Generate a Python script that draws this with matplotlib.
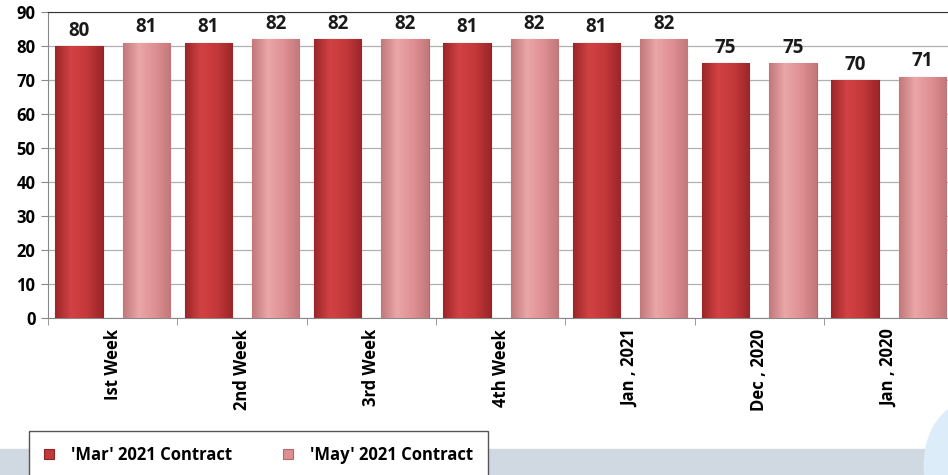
import numpy as np
import matplotlib.pyplot as plt
from matplotlib.patches import Rectangle, Ellipse
from matplotlib.colors import LinearSegmentedColormap

categories = ["Ist Week", "2nd Week", "3rd Week", "4th Week", "Jan , 2021", "Dec , 2020", "Jan , 2020"]
mar_2021 = [80, 81, 82, 81, 81, 75, 70]
may_2021 = [81, 82, 82, 82, 82, 75, 71]
series_names = ["'Mar' 2021 Contract", "'May' 2021 Contract"]

plt.rcParams['font.family'] = ['Open Sans', 'DejaVu Sans']
plt.rcParams['font.weight'] = 'bold'

fig = plt.figure(figsize=(9.48, 4.75), dpi=100)

# background band + bubble at the bottom
fig.patches.append(Rectangle((0, 0), 0.976, 26 / 475, transform=fig.transFigure,
                             color='#d0d9e1', zorder=0))
fig.patches.append(Ellipse((1.02, 0.02), 0.09, 0.26, transform=fig.transFigure,
                           color='#dcecf8', zorder=0))

ax = fig.add_axes([0.0506, 0.3305, 0.955, 0.644])
x = np.arange(len(categories))
w = 0.366
off = 0.26
b1 = ax.bar(x - off, mar_2021, w, color='#c0393b', edgecolor='#8e2426', linewidth=0.8,
            label=series_names[0], zorder=3)
b2 = ax.bar(x + off, may_2021, w, color='#de8e90', edgecolor='#b06a6c', linewidth=0.8,
            label=series_names[1], zorder=3)

# glossy look: horizontal gradient clipped to each bar
cm_mar = LinearSegmentedColormap.from_list('mar', ['#9c2628', '#d24244', '#c4383a', '#9c2628'])
cm_may = LinearSegmentedColormap.from_list('may', ['#c2787b', '#eba6a8', '#df9092', '#c2787b'])
grad = np.linspace(0, 1, 64).reshape(1, -1)
for bars, cm in ((b1, cm_mar), (b2, cm_may)):
    for r in bars:
        im = ax.imshow(grad, extent=[r.get_x(), r.get_x() + r.get_width(), 0, r.get_height()],
                       aspect='auto', cmap=cm, zorder=3.2, interpolation='bilinear')
        im.set_clip_path(r)

for bars, vals in ((b1, mar_2021), (b2, may_2021)):
    for r, v in zip(bars, vals):
        ax.text(r.get_x() + r.get_width() / 2, v + 1.6, str(v), ha='center', va='bottom',
                fontsize=13.5, fontweight='bold', color='#1a1a1a')

ax.set_xlim(-0.5, len(categories) - 0.5)
ax.set_ylim(0, 90)
ax.set_yticks(np.arange(0, 91, 10))
ax.set_xticks(x)
ax.set_xticklabels(categories, rotation=90, fontsize=12, fontweight='bold')
ax.set_xticks(np.arange(-0.5, len(categories), 1), minor=True)
ax.tick_params(axis='x', which='major', length=0, pad=8)
ax.tick_params(axis='x', which='minor', length=5, color='#888888')
ax.tick_params(axis='y', labelsize=12, length=5, color='#888888', pad=4)
for lab in ax.get_yticklabels():
    lab.set_fontweight('bold')

ax.yaxis.grid(True, color='#b0b0b0', linewidth=0.9, zorder=0)
ax.set_axisbelow(True)
ax.spines['top'].set_color('#333333')
ax.spines['right'].set_visible(False)
ax.spines['left'].set_color('#888888')
ax.spines['bottom'].set_color('#888888')

leg = fig.legend(handles=[b1, b2], labels=series_names, loc='upper left',
                 bbox_to_anchor=(0.0306, 0.0926), ncol=2, fontsize=12,
                 frameon=True, fancybox=False, handlelength=0.6, handleheight=0.6,
                 columnspacing=3.1, borderpad=0.9, handletextpad=1.0, framealpha=1,
                 borderaxespad=0)
leg.get_frame().set_edgecolor('#555555')
leg.get_frame().set_linewidth(1.0)
for t in leg.get_texts():
    t.set_fontweight('bold')

fig.savefig('out.png', dpi=100)
